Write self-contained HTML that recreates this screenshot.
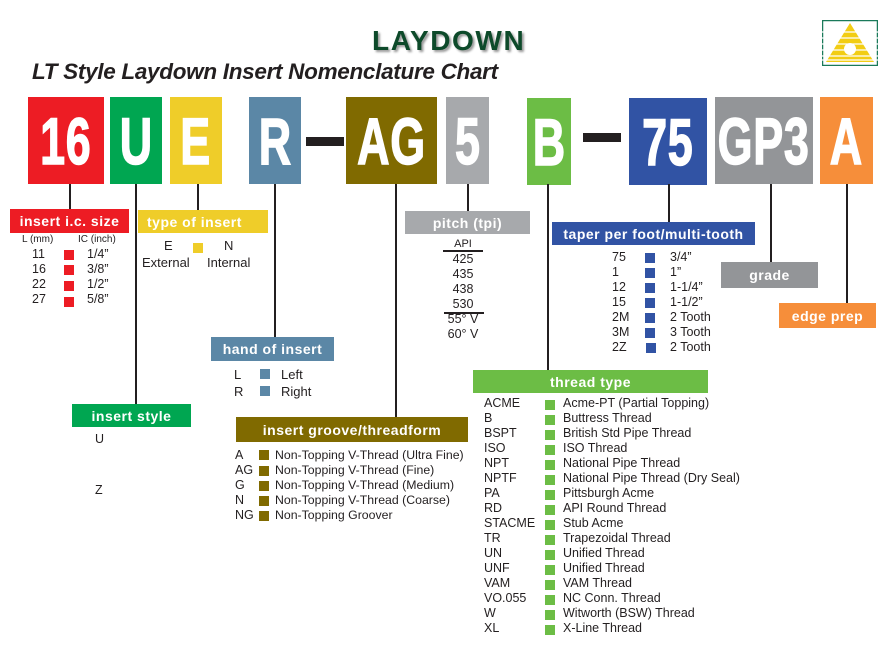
<!DOCTYPE html>
<html><head><meta charset="utf-8"><style>
body{margin:0;width:896px;height:658px;background:#fff;position:relative;overflow:hidden;font-family:"Liberation Sans",Arial,sans-serif;color:#231f20}
.a{position:absolute}
.box{position:absolute;top:97px;height:87px;display:flex;align-items:center;justify-content:center;overflow:hidden}
.box span{color:#fff;font-weight:bold;font-size:66px;display:inline-block;transform:scaleX(0.68);letter-spacing:1px;line-height:1;-webkit-text-stroke:1.5px #fff}
.v{position:absolute;width:2px;background:#231f20}
.lab{position:absolute;color:#fff;font-weight:bold;font-size:14px;letter-spacing:0.5px;display:flex;align-items:center;justify-content:center;white-space:nowrap}
.t{position:absolute;font-size:12.5px;white-space:nowrap;line-height:15px}
.sq{position:absolute;width:10px;height:10px}
</style></head><body>
<div class="a" style="left:372px;top:25px;font-size:28px;font-weight:bold;color:#0d4a2a;letter-spacing:1.6px;text-shadow:2px 2px 2px #999">LAYDOWN</div>
<div class="a" style="left:32px;top:59px;font-size:22.5px;font-weight:bold;font-style:italic;letter-spacing:-0.3px">LT Style Laydown Insert Nomenclature Chart</div>
<svg class="a" style="left:822px;top:20px" width="56" height="46" viewBox="0 0 56 46">
<rect x="0.5" y="0.5" width="55" height="45" fill="#fff" stroke="#1a7a5a" stroke-width="1.5"/>
<polygon points="28,3 4,42 52,42" fill="#f2cd14"/>
<g stroke="#fff" stroke-width="1.2"><line x1="0" y1="12" x2="56" y2="12"/><line x1="0" y1="18" x2="56" y2="18"/><line x1="0" y1="24" x2="56" y2="24"/><line x1="0" y1="30" x2="56" y2="30"/><line x1="0" y1="36" x2="56" y2="36"/><line x1="0" y1="40" x2="56" y2="40"/></g>
<circle cx="28" cy="29" r="6" fill="#fff"/>
</svg>

<div class="box" style="left:28px;width:76px;background:#ed1c24"><span>16</span></div>
<div class="box" style="left:110px;width:52px;background:#00a651"><span>U</span></div>
<div class="box" style="left:170px;width:52px;background:#efcd29"><span>E</span></div>
<div class="box" style="left:249px;width:52px;background:#5b87a6"><span>R</span></div>
<div class="a" style="left:306px;top:137px;width:38px;height:9px;background:#231f20"></div>
<div class="box" style="left:346px;width:91px;background:#806a00"><span>AG</span></div>
<div class="box" style="left:446px;width:43px;background:#a7a9ac"><span>5</span></div>
<div class="box" style="left:527px;width:44px;background:#6cbd45;top:98px"><span>B</span></div>
<div class="a" style="left:583px;top:133px;width:38px;height:9px;background:#231f20"></div>
<div class="box" style="left:629px;width:78px;background:#3153a4;top:98px"><span>75</span></div>
<div class="box" style="left:715px;width:98px;background:#939598"><span>GP3</span></div>
<div class="box" style="left:820px;width:53px;background:#f68e3a"><span>A</span></div>

<div class="v" style="left:69px;top:184px;height:26px"></div>
<div class="v" style="left:135px;top:184px;height:220px"></div>
<div class="v" style="left:197px;top:184px;height:26px"></div>
<div class="v" style="left:274px;top:184px;height:153px"></div>
<div class="v" style="left:395px;top:184px;height:233px"></div>
<div class="v" style="left:467px;top:184px;height:27px"></div>
<div class="v" style="left:547px;top:184px;height:186px"></div>
<div class="v" style="left:668px;top:184px;height:38px"></div>
<div class="v" style="left:770px;top:184px;height:78px"></div>
<div class="v" style="left:846px;top:184px;height:119px"></div>

<div class="lab" style="left:10px;top:209px;width:119px;height:24px;background:#ed1c24">insert i.c. size</div>
<div class="lab" style="left:138px;top:210px;width:130px;height:23px;background:#efcd29;justify-content:flex-start;padding-left:9px;box-sizing:border-box">type of insert</div>
<div class="lab" style="left:405px;top:211px;width:125px;height:23px;background:#a7a9ac">pitch (tpi)</div>
<div class="lab" style="left:552px;top:222px;width:203px;height:23px;background:#3153a4">taper per foot/multi-tooth</div>
<div class="lab" style="left:721px;top:262px;width:97px;height:26px;background:#939598">grade</div>
<div class="lab" style="left:779px;top:303px;width:97px;height:25px;background:#f68e3a">edge prep</div>
<div class="lab" style="left:211px;top:337px;width:123px;height:24px;background:#5b87a6">hand of insert</div>
<div class="lab" style="left:473px;top:370px;width:235px;height:23px;background:#6cbd45">thread type</div>
<div class="lab" style="left:72px;top:404px;width:119px;height:23px;background:#00a651">insert style</div>
<div class="lab" style="left:236px;top:417px;width:232px;height:25px;background:#806a00">insert groove/threadform</div>

<div class="t" style="left:22px;top:232px;font-size:10px">L (mm)</div>
<div class="t" style="left:78px;top:232px;font-size:10px">IC (inch)</div>
<div class="t" style="left:32px;top:247px">11<br>16<br>22<br>27</div>
<div class="t" style="left:87px;top:247px">1/4”<br>3/8”<br>1/2”<br>5/8”</div>
<div class="sq" style="left:64px;top:250px;background:#ed1c24"></div>
<div class="sq" style="left:64px;top:265px;background:#ed1c24"></div>
<div class="sq" style="left:64px;top:281px;background:#ed1c24"></div>
<div class="sq" style="left:64px;top:297px;background:#ed1c24"></div>

<div class="t" style="left:164px;top:238px;font-size:13px">E</div>
<div class="t" style="left:224px;top:238px;font-size:13px">N</div>
<div class="sq" style="left:193px;top:243px;background:#efcd29"></div>
<div class="t" style="left:142px;top:255px;font-size:13px">External</div>
<div class="t" style="left:207px;top:255px;font-size:13px">Internal</div>

<div class="t" style="left:234px;top:366px;line-height:17px;font-size:13px">L<br>R</div>
<div class="sq" style="left:260px;top:369px;background:#5b87a6"></div>
<div class="sq" style="left:260px;top:386px;background:#5b87a6"></div>
<div class="t" style="left:281px;top:366px;line-height:17px;font-size:13px">Left<br>Right</div>

<div class="t" style="left:95px;top:432px">U</div>
<div class="t" style="left:95px;top:483px">Z</div>

<div class="t" style="left:235px;top:448px">A<br>AG<br>G<br>N<br>NG</div>
<div class="t" style="left:275px;top:448px;font-size:12.3px">Non-Topping V-Thread (Ultra Fine)<br>Non-Topping V-Thread (Fine)<br>Non-Topping V-Thread (Medium)<br>Non-Topping V-Thread (Coarse)<br>Non-Topping Groover</div>
<div class="sq" style="left:259px;top:450px;background:#806a00"></div>
<div class="sq" style="left:259px;top:466px;background:#806a00"></div>
<div class="sq" style="left:259px;top:481px;background:#806a00"></div>
<div class="sq" style="left:259px;top:496px;background:#806a00"></div>
<div class="sq" style="left:259px;top:511px;background:#806a00"></div>

<div class="t" style="left:443px;top:238px;width:40px;text-align:center;font-size:11px;line-height:13px">API</div>
<div class="a" style="left:443px;top:250px;width:40px;height:1.5px;background:#231f20"></div>
<div class="t" style="left:443px;top:252px;width:40px;text-align:center">425<br>435<br>438<br>530</div>
<div class="a" style="left:444px;top:312px;width:40px;height:1.5px;background:#231f20"></div>
<div class="t" style="left:443px;top:312px;width:40px;text-align:center">55° V<br>60° V</div>

<div class="t" style="left:612px;top:250px">75<br>1<br>12<br>15<br>2M<br>3M<br>2Z</div>
<div class="t" style="left:670px;top:250px">3/4”<br>1”<br>1-1/4”<br>1-1/2”<br>2 Tooth<br>3 Tooth<br>2 Tooth</div>
<div class="sq" style="left:645px;top:253px;background:#3153a4"></div>
<div class="sq" style="left:645px;top:268px;background:#3153a4"></div>
<div class="sq" style="left:645px;top:283px;background:#3153a4"></div>
<div class="sq" style="left:645px;top:298px;background:#3153a4"></div>
<div class="sq" style="left:645px;top:313px;background:#3153a4"></div>
<div class="sq" style="left:645px;top:328px;background:#3153a4"></div>
<div class="sq" style="left:646px;top:343px;background:#3153a4"></div>

<div class="t" style="left:484px;top:396px">ACME<br>B<br>BSPT<br>ISO<br>NPT<br>NPTF<br>PA<br>RD<br>STACME<br>TR<br>UN<br>UNF<br>VAM<br>VO.055<br>W<br>XL</div>
<div class="t" style="left:563px;top:396px">Acme-PT (Partial Topping)<br>Buttress Thread<br>British Std Pipe Thread<br>ISO Thread<br>National Pipe Thread<br>National Pipe Thread (Dry Seal)<br>Pittsburgh Acme<br>API Round Thread<br>Stub Acme<br>Trapezoidal Thread<br>Unified Thread<br>Unified Thread<br>VAM Thread<br>NC Conn. Thread<br>Witworth (BSW) Thread<br>X-Line Thread</div>
<div class="sq" style="left:545px;top:400px;background:#6cbd45"></div>
<div class="sq" style="left:545px;top:415px;background:#6cbd45"></div>
<div class="sq" style="left:545px;top:430px;background:#6cbd45"></div>
<div class="sq" style="left:545px;top:445px;background:#6cbd45"></div>
<div class="sq" style="left:545px;top:460px;background:#6cbd45"></div>
<div class="sq" style="left:545px;top:475px;background:#6cbd45"></div>
<div class="sq" style="left:545px;top:490px;background:#6cbd45"></div>
<div class="sq" style="left:545px;top:505px;background:#6cbd45"></div>
<div class="sq" style="left:545px;top:520px;background:#6cbd45"></div>
<div class="sq" style="left:545px;top:535px;background:#6cbd45"></div>
<div class="sq" style="left:545px;top:550px;background:#6cbd45"></div>
<div class="sq" style="left:545px;top:565px;background:#6cbd45"></div>
<div class="sq" style="left:545px;top:580px;background:#6cbd45"></div>
<div class="sq" style="left:545px;top:595px;background:#6cbd45"></div>
<div class="sq" style="left:545px;top:610px;background:#6cbd45"></div>
<div class="sq" style="left:545px;top:625px;background:#6cbd45"></div>
</body></html>
